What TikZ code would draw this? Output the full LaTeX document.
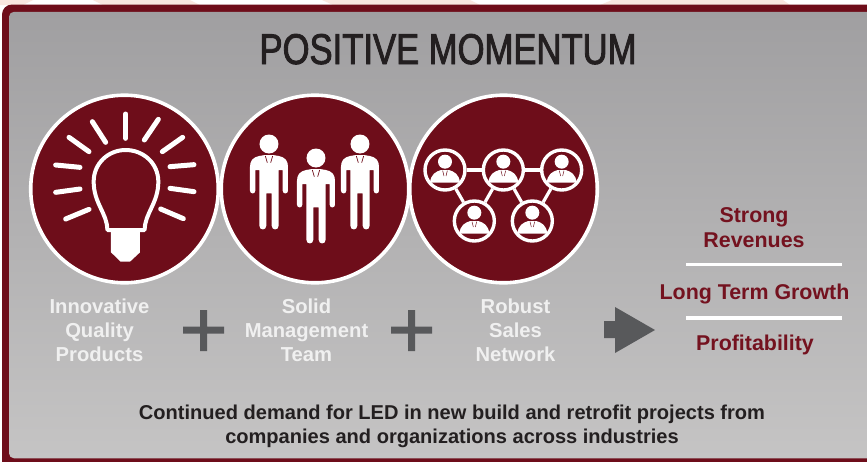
\documentclass[tikz,border=0pt]{standalone}
\usepackage{fontspec}
\setmainfont{Liberation Sans}
\newfontfamily\titlefont[FakeStretch=0.805,FakeBold=2]{Liberation Sans}
\definecolor{maroon}{HTML}{6E0D1A}
\definecolor{redtext}{HTML}{74121F}
\definecolor{slategray}{HTML}{58595B}
\definecolor{inktext}{HTML}{231F20}
\definecolor{labelwhite}{HTML}{F0F0F0}
\definecolor{blush}{HTML}{F9E7E0}
\definecolor{paneltop}{HTML}{A09FA1}
\definecolor{panelbottom}{HTML}{C5C4C4}
\tikzset{
  bigdisc/.style={circle,draw=white,fill=maroon,line width=3.6pt,minimum size=187.6pt,inner sep=0pt},
  smalldisc/.style={circle,draw=white,fill=maroon,line width=3.4pt,minimum size=40pt,inner sep=0pt},
  rayline/.style={white,line width=5pt,line cap=round},
  netlink/.style={white,line width=3.2pt},
  rule/.style={white,line width=3.6pt},
  lighttext/.style={text=labelwhite,font=\fontsize{20.2}{24}\selectfont\bfseries,align=center,anchor=base},
  redlabel/.style={text=redtext,font=\fontsize{21.4}{25}\selectfont\bfseries,align=center,anchor=base},
  pics/person/.style={code={
    \fill[white] (0,0) circle (28.5);
    \fill[white] (-12,33) -- (-30,36) .. controls (-48,40) and (-57,50) .. (-57,68) -- (-57,140)
      .. controls (-57,151) and (-41,151) .. (-41,140) -- (-41,78) -- (-29,78) -- (-29,245)
      .. controls (-29,260) and (-8,260) .. (-8,245) -- (-8,148) -- (8,148) -- (8,245)
      .. controls (8,260) and (29,260) .. (29,245) -- (29,78) -- (41,78) -- (41,140)
      .. controls (41,151) and (57,151) .. (57,140) -- (57,68) .. controls (57,50) and (48,40) .. (30,36) -- (12,33) -- cycle;
    \draw[maroon,line width=0.7pt] (-11,36) -- (-5,56) (11,36) -- (5,56);
  }},
  pics/miniperson/.style={code={
    \fill[white] (0,-25) circle (21);
    \fill[white] (-45,38) .. controls (-42,12) and (-28,5) .. (-12,0) -- (12,0) .. controls (28,5) and (42,12) .. (45,38) -- cycle;
    \draw[maroon,line width=0.5pt] (-7,2) -- (-3,18) (7,2) -- (3,18);
  }}
}
\begin{document}
\begin{tikzpicture}[x=1pt,y=-1pt]
\useasboundingbox (0,0) rectangle (867,461);
\fill[white] (0,0) rectangle (867,461);
% pale strip along the top
\fill[blush] (0,0) -- (33,0) -- (23,5) -- (0,5) -- cycle;
\fill[blush] (93,0) -- (190,0) -- (200,5) -- (103,5) -- cycle;
\fill[blush] (322,0) -- (470,0) -- (472,1) -- (480,5) -- (333,5) -- cycle;
\fill[blush] (612,0) -- (783,0) -- (790,5) -- (600,5) -- cycle;
% frame and panel
\begin{scope}
\clip (0,0) rectangle (867,461);
\fill[maroon,rounded corners=10pt] (2,4.5) rectangle (890,475);
\shade[top color=paneltop,bottom color=panelbottom,rounded corners=5pt] (9,11.8) rectangle (885,458.3);
\end{scope}
% title
\node (title) [anchor=base,text=inktext,font=\fontsize{43}{48}\selectfont\titlefont] at (448,64) {POSITIVE MOMENTUM};
% discs
\node (bulbdisc) [bigdisc] at (124.5,189) {};
\node (teamdisc) [bigdisc] at (315,189) {};
\node (netdisc) [bigdisc] at (503.5,189) {};
% bulb
\begin{scope}[scale=1/3]
  \foreach \a/\b/\c/\d in {377/342/377/415,277/365/317/427,207/412/267/455,167/495/240/502,167/577/240/567,197/657/267/628,475/358/433/420,548/412/487/455,582/494/510/500,582/575/510/565,550/656/482/627}
    \draw[rayline] (\a,\b) -- (\c,\d);
  \draw[white,line width=4pt,line join=round] (322,690) .. controls (322,640) and (281,610) .. (281,545)
     .. controls (281,490) and (325,450) .. (377,450) .. controls (430,450) and (475,490) .. (475,545)
     .. controls (475,610) and (434,640) .. (434,690) -- cycle;
  \fill[white] (333,690) -- (420,690) -- (420,757) -- (390,785) -- (362,785) -- (333,757) -- cycle;
  \pic[scale=1/3] at (807,432) {person};
  \pic[scale=1/3] at (948,474) {person};
  \pic[scale=1/3] at (1080,432) {person};
\end{scope}
% network
\begin{scope}[shift={(400,130)},scale=1/3]
  \node (n1) [smalldisc] at (135,120) {};
  \node (n2) [smalldisc] at (310,120) {};
  \node (n3) [smalldisc] at (485,120) {};
  \node (n4) [smalldisc] at (223,273) {};
  \node (n5) [smalldisc] at (397,273) {};
  \draw[netlink] (n1) -- (n2);
  \draw[netlink] (n2) -- (n3);
  \draw[netlink] (n1) -- (n4);
  \draw[netlink] (n4) -- (n2);
  \draw[netlink] (n2) -- (n5);
  \draw[netlink] (n5) -- (n3);
  \pic[scale=1/3] at (135,120) {miniperson};
  \pic[scale=1/3] at (310,120) {miniperson};
  \pic[scale=1/3] at (485,120) {miniperson};
  \pic[scale=1/3] at (223,273) {miniperson};
  \pic[scale=1/3] at (397,273) {miniperson};
\end{scope}
% labels
\node (lab1) [lighttext] at (99.5,361.5) {Innovative\\Quality\\Products};
\node (lab2) [lighttext] at (306.5,361.5) {Solid\\Management\\Team};
\node (lab3) [lighttext] at (515.5,361.5) {Robust\\Sales\\Network};
% plus signs
\fill[slategray] (183,326.5) rectangle (224,333.5) (200,310) rectangle (207,351);
\fill[slategray] (391,326.5) rectangle (432,333.5) (408,310) rectangle (415,351);
% arrow
\fill[slategray] (604,321) -- (615,321) -- (615,307) -- (655,330) -- (615,353) -- (615,338) -- (604,338) -- cycle;
% outcomes
\node (out1) [redlabel] at (754,247) {Strong\\Revenues};
\node (out2) [redlabel] at (754.5,299) {Long Term Growth};
\node (out3) [redlabel] at (755,350) {Profitability};
\coordinate (r1a) at (686,264.5); \coordinate (r1b) at (842,264.5);
\coordinate (r2a) at (686,317.7); \coordinate (r2b) at (842,317.7);
\draw[rule] (r1a) -- (r1b);
\draw[rule] (r2a) -- (r2b);
% bottom text
\node (foot) [anchor=base,align=center,text=inktext,font=\fontsize{20.05}{23.6}\selectfont\bfseries] at (452,443) {Continued demand for LED in new build and retrofit projects from\\companies and organizations across industries};
\end{tikzpicture}
\end{document}
